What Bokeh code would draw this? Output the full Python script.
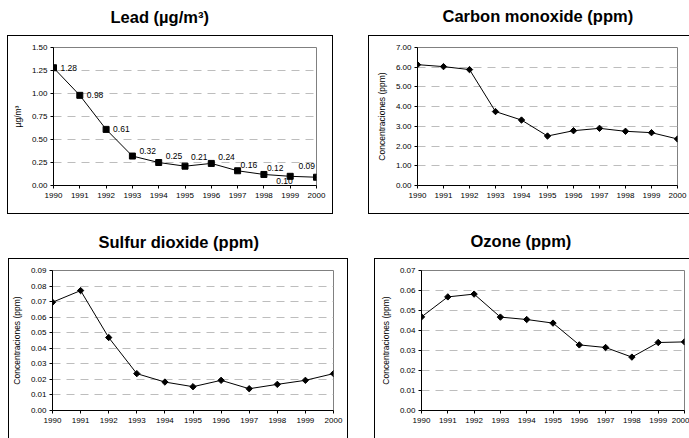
from bokeh.plotting import figure
from bokeh.layouts import column, row
from bokeh.models import (Range1d, FixedTicker, NumeralTickFormatter, ColumnDataSource,
                          LabelSet, Title, InlineStyleSheet)
from bokeh.core.properties import value
from bokeh.embed import file_html
from bokeh.resources import INLINE

years = [1990, 1991, 1992, 1993, 1994, 1995, 1996, 1997, 1998, 1999, 2000]
year_labels = ["1990", "1991", "1992", "1993", "1994", "1995", "1996", "1997", "1998", "1999", "2000"]

lead = [1.28, 0.98, 0.61, 0.32, 0.25, 0.21, 0.24, 0.16, 0.12, 0.10, 0.09]
lead_labels = ["1.28", "0.98", "0.61", "0.32", "0.25", "0.21", "0.24", "0.16", "0.12", "0.10", "0.09"]
co = [6.13, 6.03, 5.88, 3.75, 3.32, 2.51, 2.78, 2.90, 2.75, 2.68, 2.36]
so2 = [0.0696, 0.0771, 0.0469, 0.0237, 0.0183, 0.0153, 0.0194, 0.0140, 0.0168, 0.0194, 0.0237]
ozone = [0.0468, 0.0568, 0.0582, 0.0467, 0.0455, 0.0437, 0.0328, 0.0315, 0.0267, 0.0340, 0.0343]

lead_ticks = [0, 0.25, 0.5, 0.75, 1.0, 1.25, 1.5]
co_ticks = [0, 1, 2, 3, 4, 5, 6, 7]
so2_ticks = [0, 0.01, 0.02, 0.03, 0.04, 0.05, 0.06, 0.07, 0.08, 0.09]
ozone_ticks = [0, 0.01, 0.02, 0.03, 0.04, 0.05, 0.06, 0.07]

# label offsets (pixels) for the lead data labels
lead_dx = [7, 7, 7, 7, 7, 6, 7, 3, 3, -14, -18]
lead_dy = [0, 0, 0, 5, 7, 9, 6, 6, 6, -5, 11]

FONT = "Liberation Sans"


def box_css(left, top, width, height, sides):
    b = "".join(f"border-{s}:1px solid #000;" for s in sides)
    return InlineStyleSheet(css=(
        ":host{position:relative;}"
        ":host::after{content:'';position:absolute;"
        f"left:{left}px;top:{top}px;width:{width}px;height:{height}px;"
        f"box-sizing:border-box;{b}pointer-events:none;z-index:5;}}"))


def panel(title, ylabel, yvals, yticks, width, height, borders, t_offset, gap, css,
          square=False):
    p = figure(width=width, height=height, x_range=Range1d(years[0], years[-1]),
               y_range=Range1d(yticks[0], yticks[-1]), output_backend="svg",
               toolbar_location=None,
               min_border_left=borders[0], min_border_right=borders[1],
               min_border_top=borders[2], min_border_bottom=borders[3])
    p.stylesheets = [css]
    p.background_fill_color = "white"
    p.border_fill_color = "white"
    p.outline_line_color = "#808080"
    p.outline_line_width = 1

    # spacer between the title and the plot area, then the title itself
    p.title.text = ""
    p.add_layout(Title(text=" ", text_font=FONT, text_font_size="10px", standoff=gap),
                 "above")
    p.add_layout(Title(text=title, align="left", offset=t_offset, standoff=0,
                       text_font=FONT, text_font_size="16.5px", text_font_style="bold",
                       text_color="black"), "above")

    p.xgrid.visible = False
    p.ygrid.ticker = FixedTicker(ticks=yticks[1:])
    p.ygrid.grid_line_color = "#bdbdbd"
    p.ygrid.grid_line_dash = "8 6"
    p.ygrid.grid_line_width = 1

    xa = p.xaxis[0]
    xa.ticker = FixedTicker(ticks=years)
    xa.major_label_overrides = {y: l for y, l in zip(years, year_labels)}
    xa.minor_tick_line_color = None
    xa.major_tick_out = 3
    xa.major_tick_in = 0
    xa.major_label_standoff = 4
    xa.axis_line_color = "black"
    xa.major_tick_line_color = "black"
    xa.major_label_text_font = FONT
    xa.major_label_text_font_size = "8px"
    xa.major_label_text_color = "black"

    ya = p.yaxis[0]
    ya.ticker = FixedTicker(ticks=yticks)
    ya.formatter = NumeralTickFormatter(format="0.00")
    ya.minor_tick_line_color = None
    ya.major_tick_out = 3
    ya.major_tick_in = 0
    ya.major_label_standoff = 3
    ya.axis_line_color = "black"
    ya.major_tick_line_color = "black"
    ya.major_label_text_font = FONT
    ya.major_label_text_font_size = "8px"
    ya.major_label_text_color = "black"
    ya.axis_label = ylabel
    ya.axis_label_text_font = FONT
    ya.axis_label_text_font_size = "8.5px"
    ya.axis_label_text_font_style = "normal"
    ya.axis_label_text_color = "black"
    ya.axis_label_standoff = 6

    p.line(years, yvals, line_color="black", line_width=1)
    if square:
        p.scatter(years, yvals, marker="square", size=6, fill_color="black",
                  line_color="black")
    else:
        p.scatter(years, yvals, marker="square", size=4.5, angle=0.785398,
                  fill_color="black", line_color="black")
    return p


p1 = panel("Lead (µg/m³)", "µg/m³", lead, lead_ticks, 350, 226, (53, 34, 46, 41), 57, 9,
           box_css(7, 35, 326, 179, ["left", "top", "right", "bottom"]), square=True)
src = ColumnDataSource(dict(x=years, y=lead, t=lead_labels, dx=lead_dx, dy=lead_dy))
p1.add_layout(LabelSet(x="x", y="y", text="t", x_offset="dx", y_offset="dy", source=src,
                       text_font=value(FONT), text_font_size=value("8.5px"),
                       text_color=value("black"),
                       text_align="left", text_baseline="middle"))

p2 = panel("Carbon monoxide (ppm)", "Concentraciones (ppm)", co, co_ticks, 339, 226,
           (67, 12, 47, 40), 25, 10, box_css(18, 35, 321, 179, ["left", "top", "bottom"]))

p3 = panel("Sulfur dioxide (ppm)", "Concentraciones (ppm)", so2, so2_ticks, 360, 212,
           (52, 27, 43, 28), 46, 7, box_css(8, 32, 340, 180, ["left", "top", "right"]))

p4 = panel("Ozone (ppm)", "Concentraciones (ppm)", ozone, ozone_ticks, 329, 212,
           (61, 5, 44, 27), 49, 8, box_css(14, 32, 315, 180, ["left", "top"]))

layout = column(row(p1, p2, spacing=0), row(p3, p4, spacing=0), spacing=0)

open("out.html", "w").write(file_html(layout, INLINE))
